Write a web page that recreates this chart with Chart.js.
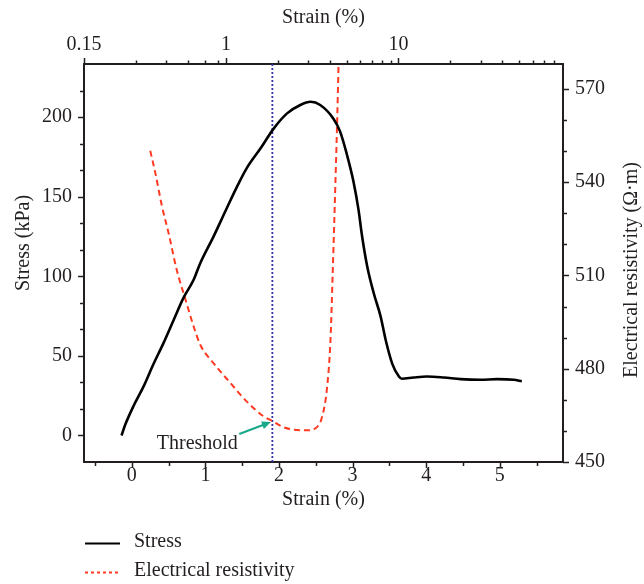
<!DOCTYPE html>
<html>
<head>
<meta charset="utf-8">
<script src="https://cdn.jsdelivr.net/npm/chart.js@4/dist/chart.umd.min.js"></script>
<style>
html,body{margin:0;padding:0;background:#fff;}
#wrap{width:644px;height:584px;position:relative;}
</style>
</head>
<body>
<div id="wrap"><canvas id="c" width="644" height="584"></canvas></div>
<script>
// ---- data ----
const stressStrain = [-0.14,-0.09,0.02,0.16,0.29,0.43,0.57,0.70,0.84,0.93,1.11,1.29,1.43,1.56,1.75,1.93,2.11,2.29,2.43,2.56,2.74,2.83,2.92,3.01,3.08,3.13,3.20,3.29,3.38,3.45,3.54,3.63,3.67,3.83,4.01,4.24,4.47,4.74,4.96,5.19,5.30];
const stressValues = [0,6.7,18.2,30.8,44.4,58.0,72.7,86.3,97.8,108.2,124.9,142.7,156.3,167.8,180.4,192.9,202.3,207.6,209.6,207.6,199,191,177,160,142,125,106,89,75,60,45,37,35.6,36.4,37,36.4,35.4,35,35.4,35,34];
const resStrain = [0.25,0.32,0.41,0.50,0.61,0.73,0.84,0.93,1.11,1.34,1.56,1.79,1.90,2.04,2.20,2.38,2.52,2.58,2.65,2.70,2.73,2.76,2.79,2.81];
const resValues = [550.1,542.9,532.2,523.6,511.8,502.2,493.6,487.7,481.8,475.4,469.5,464.7,463.3,461.4,460.4,460.2,461.3,464.1,473.2,489.3,510.8,534.3,559.0,578];
const thresholdStrain = 1.91;

// ---- ticks ----
const bottomTicks = [0,1,2,3,4,5];
const bottomMinor = [-0.5,0.5,1.5,2.5,3.5,4.5,5.5];
const topTicks = [0.15,1,10];
const topMinor = [0.3,0.45,0.6,0.75,0.9,2,3,4,5,6,7,8,9,20,30,40,50,60,70,80];
const stressTicks = [0,50,100,150,200];
const stressMinor = [16.67,33.33,66.67,83.33,116.67,133.33,166.67,183.33,216.67];
const resTicks = [450,480,510,540,570];
const resMinor = [460,470,490,500,520,530,550,560];

// ---- labels ----
const seriesNames = ['Stress','Electrical resistivity'];
const xTitle = 'Strain (%)';
const yTitle = 'Stress (kPa)';
const y2Title = 'Electrical resistivity (\u03A9\u00B7m)';
const annotationText = 'Threshold';
const annotationAt = [0.89, -5.2];
const arrowFrom = [1.46, 0.9];
const arrowTo = [1.89, 8.4];

const TXT = '#231f20';
const FONT = "'Liberation Serif','Times New Roman',serif";
Chart.defaults.font.family = FONT;
Chart.defaults.font.size = 20;
Chart.defaults.color = TXT;

const zip = (xs, ys) => xs.map((x, i) => ({x: x, y: ys[i]}));

const tickPlugin = {
  id: 'tickMarks',
  afterDraw(chart) {
    const ctx = chart.ctx, s = chart.scales;
    ctx.save();
    ctx.strokeStyle = TXT;
    ctx.lineWidth = 1.5;
    const draw = (scale, vals, len) => {
      vals.forEach(v => {
        const p = Math.round(scale.getPixelForValue(v)) + 0.5;
        ctx.beginPath();
        if (scale.id === 'x') { ctx.moveTo(p, scale.top); ctx.lineTo(p, scale.top + len); }
        else if (scale.id === 'x2') { ctx.moveTo(p, scale.bottom); ctx.lineTo(p, scale.bottom - len); }
        else if (scale.id === 'y') { ctx.moveTo(scale.right, p); ctx.lineTo(scale.right - len, p); }
        else { ctx.moveTo(scale.left, p); ctx.lineTo(scale.left + len, p); }
        ctx.stroke();
      });
    };
    draw(s.x, bottomTicks, 6); draw(s.x, bottomMinor, 4);
    draw(s.x2, topTicks, 6); draw(s.x2, topMinor, 3.5);
    draw(s.y, stressTicks, 6); draw(s.y, stressMinor, 4);
    draw(s.y2, resTicks, 6); draw(s.y2, resMinor, 4);

    // vertical axis titles (both read bottom-to-top)
    ctx.fillStyle = TXT;
    ctx.font = '20px ' + FONT;
    ctx.textAlign = 'center';
    ctx.textBaseline = 'middle';
    ctx.save();
    ctx.translate(24, 243);
    ctx.rotate(-Math.PI / 2);
    ctx.fillText(yTitle, 0, 0);
    ctx.restore();
    ctx.save();
    ctx.translate(632, 270);
    ctx.rotate(-Math.PI / 2);
    ctx.fillText(y2Title, 0, 0);
    ctx.restore();

    // annotation
    const ax = s.x, ay = s.y;
    ctx.textAlign = 'center';
    ctx.fillText(annotationText, ax.getPixelForValue(annotationAt[0]), ay.getPixelForValue(annotationAt[1]));
    const x1 = ax.getPixelForValue(arrowFrom[0]), y1 = ay.getPixelForValue(arrowFrom[1]);
    const x2 = ax.getPixelForValue(arrowTo[0]), y2 = ay.getPixelForValue(arrowTo[1]);
    const ang = Math.atan2(y2 - y1, x2 - x1);
    ctx.strokeStyle = '#19a889';
    ctx.fillStyle = '#19a889';
    ctx.lineWidth = 2;
    ctx.beginPath();
    ctx.moveTo(x1, y1);
    ctx.lineTo(x2 - 7 * Math.cos(ang), y2 - 7 * Math.sin(ang));
    ctx.stroke();
    ctx.beginPath();
    ctx.moveTo(x2, y2);
    ctx.lineTo(x2 - 9 * Math.cos(ang) + 4 * Math.sin(ang), y2 - 9 * Math.sin(ang) - 4 * Math.cos(ang));
    ctx.lineTo(x2 - 9 * Math.cos(ang) - 4 * Math.sin(ang), y2 - 9 * Math.sin(ang) + 4 * Math.cos(ang));
    ctx.closePath();
    ctx.fill();

    // legend
    const ds = chart.data.datasets;
    const rows = [543, 572];
    [0, 1].forEach((i, k) => {
      const d = ds[i];
      ctx.strokeStyle = d.borderColor;
      ctx.lineWidth = 2;
      ctx.setLineDash(i === 0 ? [] : [3, 3]);
      ctx.beginPath();
      ctx.moveTo(85, rows[k] + 0.5);
      ctx.lineTo(120, rows[k] + 0.5);
      ctx.stroke();
      ctx.setLineDash([]);
      ctx.fillStyle = TXT;
      ctx.textAlign = 'left';
      ctx.fillText(d.label, 134, rows[k] - 1);
    });
    ctx.restore();
  }
};

const setTicks = vals => (scale => { scale.ticks = vals.map(v => ({value: v})); });

new Chart(document.getElementById('c'), {
  type: 'scatter',
  data: {
    datasets: [
      {
        label: seriesNames[0],
        data: zip(stressStrain, stressValues),
        showLine: true, pointRadius: 0,
        borderColor: '#000000', borderWidth: 2.6,
        cubicInterpolationMode: 'monotone',
        xAxisID: 'x', yAxisID: 'y'
      },
      {
        label: seriesNames[1],
        data: zip(resStrain, resValues),
        showLine: true, pointRadius: 0,
        borderColor: '#ff3a22', borderWidth: 2,
        borderDash: [6, 4],
        cubicInterpolationMode: 'monotone',
        xAxisID: 'x', yAxisID: 'y2'
      },
      {
        label: 'threshold',
        data: [{x: thresholdStrain, y: -16.67}, {x: thresholdStrain, y: 233.33}],
        showLine: true, pointRadius: 0,
        borderColor: '#3333aa', borderWidth: 1.8,
        borderDash: [2, 2],
        xAxisID: 'x', yAxisID: 'y'
      }
    ]
  },
  options: {
    responsive: false,
    animation: false,
    devicePixelRatio: 1,
    layout: {padding: {left: 0, right: 0, top: 0, bottom: 70}},
    plugins: {legend: {display: false}, tooltip: {enabled: false}},
    scales: {
      x: {
        type: 'linear', position: 'bottom', min: -0.65, max: 5.86,
        afterBuildTicks: setTicks(bottomTicks),
        afterFit: s => { s.height = 52; },
        grid: {display: false, drawTicks: false},
        border: {display: true, color: TXT, width: 2},
        ticks: {padding: 2, autoSkip: false, maxRotation: 0, callback: v => String(v)},
        title: {display: true, text: xTitle, padding: {top: 0, bottom: 2}}
      },
      x2: {
        type: 'logarithmic', position: 'top', min: 0.15, max: 90,
        afterBuildTicks: setTicks(topTicks),
        afterFit: s => { s.height = 64; },
        grid: {display: false, drawTicks: false},
        border: {display: true, color: TXT, width: 2},
        ticks: {padding: 7, autoSkip: false, maxRotation: 0, callback: v => String(v)},
        title: {display: true, text: xTitle, padding: {top: 6, bottom: 0}}
      },
      y: {
        type: 'linear', position: 'left', min: -16.67, max: 233.33,
        afterBuildTicks: setTicks(stressTicks),
        afterFit: s => { s.width = 84; },
        grid: {display: false, drawTicks: false},
        border: {display: true, color: TXT, width: 2},
        ticks: {padding: 12, autoSkip: false, callback: v => String(v)},
        title: {display: false}
      },
      y2: {
        type: 'linear', position: 'right', min: 450, max: 578,
        afterBuildTicks: setTicks(resTicks),
        afterFit: s => { s.width = 81; },
        grid: {display: false, drawTicks: false},
        border: {display: true, color: TXT, width: 2},
        ticks: {padding: 12, autoSkip: false, callback: v => String(v)},
        title: {display: false}
      }
    }
  },
  plugins: [tickPlugin]
});
</script>
</body>
</html>
